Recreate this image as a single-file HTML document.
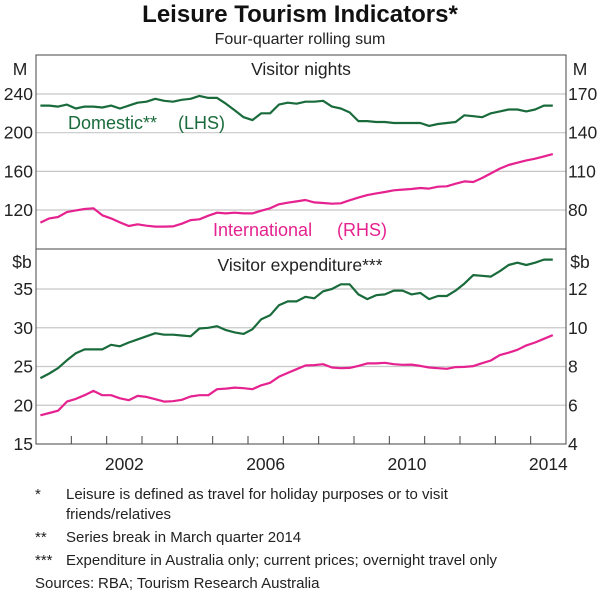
<!DOCTYPE html>
<html><head><meta charset="utf-8"><style>
body{margin:0;background:#fff;width:600px;height:594px;overflow:hidden}
svg{font-family:"Liberation Sans",Arial,sans-serif;display:block}
.t{font-size:17.5px;fill:#222}
.f{font-size:15px;fill:#222}
</style></head><body>
<svg id="c" width="600" height="594" viewBox="0 0 600 594">
<text x="300" y="22" text-anchor="middle" font-size="24" font-weight="bold" fill="#111">Leisure Tourism Indicators*</text>
<text x="300" y="44" text-anchor="middle" font-size="16" fill="#222">Four-quarter rolling sum</text>
<g id="grid"></g>
<g id="lines"></g>
<rect x="36" y="55" width="530" height="389" fill="none" stroke="#444" stroke-width="1"/>
<line x1="36" y1="249" x2="566" y2="249" stroke="#444" stroke-width="1"/>
<g id="axes"></g>
<text x="20" y="75" class="t" text-anchor="middle">M</text>
<text x="580" y="75" class="t" text-anchor="middle">M</text>
<text x="301" y="75" class="t" text-anchor="middle">Visitor nights</text>
<text x="22" y="268" class="t" text-anchor="middle">$b</text>
<text x="580" y="268" class="t" text-anchor="middle">$b</text>
<text x="300" y="271" class="t" text-anchor="middle">Visitor expenditure***</text>
<text x="68" y="129" font-size="18" fill="#1a6b3c">Domestic**</text>
<text x="178" y="129" font-size="18" fill="#1a6b3c">(LHS)</text>
<text x="213" y="236" font-size="18" fill="#e5228f">International</text>
<text x="337" y="236" font-size="18" fill="#e5228f">(RHS)</text>
<g>
<text x="35" y="499" class="f">*</text><text x="66" y="499" class="f">Leisure is defined as travel for holiday purposes or to visit</text>
<text x="66" y="519" class="f">friends/relatives</text>
<text x="35" y="542" class="f">**</text><text x="66" y="542" class="f">Series break in March quarter 2014</text>
<text x="35" y="565" class="f">***</text><text x="66" y="565" class="f">Expenditure in Australia only; current prices; overnight travel only</text>
<text x="35" y="588" class="f">Sources:</text><text x="98" y="588" class="f">RBA; Tourism Research Australia</text>
</g>
</svg>
<script>
const domNights=[228,228,227,229,225,227,227,226,228,225,228,231,232,235,233,232,234,235,238,236,236,230,223,216,213,220,220,229,231,230,232,232,233,227,225,221,212,212,211,211,210,210,210,210,207,209,210,211,218,217,216,220,222,224,224,222,224,228,228];
const intNights=[70.2,73.5,74.6,78.4,79.7,80.8,81.3,75.9,73.5,70.4,67.6,68.9,67.8,67.1,67.1,67.3,69.4,72.2,72.8,75.6,77.9,77.4,77.9,77.4,77.4,79.5,81.3,84.4,85.7,86.7,87.8,85.9,85.4,84.9,85.2,87.5,89.6,91.6,92.9,94.0,95.3,95.8,96.3,97.1,96.6,98.1,98.4,100.4,102.2,101.7,104.8,108.4,112.1,114.9,116.7,118.5,119.8,121.6,123.4];
const domExp=[23.5,24.1,24.8,25.8,26.7,27.2,27.2,27.2,27.8,27.6,28.1,28.5,28.9,29.3,29.1,29.1,29.0,28.9,29.9,30.0,30.2,29.7,29.4,29.2,29.8,31.1,31.6,32.9,33.4,33.4,34.0,33.8,34.7,35.0,35.6,35.6,34.3,33.7,34.2,34.3,34.8,34.8,34.3,34.5,33.7,34.1,34.1,34.8,35.7,36.8,36.7,36.6,37.3,38.1,38.4,38.1,38.4,38.8,38.8];
const intExp=[5.48,5.60,5.72,6.19,6.33,6.52,6.74,6.52,6.52,6.36,6.26,6.48,6.43,6.31,6.19,6.21,6.28,6.45,6.52,6.52,6.83,6.86,6.91,6.88,6.83,7.03,7.16,7.47,7.67,7.86,8.05,8.07,8.12,7.95,7.91,7.93,8.03,8.16,8.16,8.19,8.12,8.09,8.10,8.03,7.95,7.91,7.88,7.97,7.98,8.02,8.17,8.31,8.59,8.71,8.86,9.09,9.24,9.43,9.62];
const startYear=2000.125;
const topLeftTicks=[240,200,160,120];
const topRightTicks=[170,140,110,80];
const botLeftTicks=[35,30,25,20,15];
const botRightTicks=[12,10,8,6,4];
const yearLabels=[2002,2006,2010,2014];

const NS='http://www.w3.org/2000/svg';
const X=t=>36+(t-2000)*(530/15);
const yTL=v=>94+(240-v)*38.67/40;
const yTR=v=>94+(170-v)*38.67/30;
const yBL=v=>289+(35-v)*38.75/5;
const yBR=v=>289+(12-v)*38.75/2;
function mk(tag,attrs,parent){const e=document.createElementNS(NS,tag);for(const k in attrs)e.setAttribute(k,attrs[k]);document.getElementById(parent).appendChild(e);return e;}
function grid(ticks,yf){ticks.forEach(v=>{const y=yf(v);if(y>56&&y<443){const l=mk('line',{x1:36,x2:566,y1:y,y2:y,stroke:'#c8c8c8','stroke-width':1.2},'grid');

}});}
grid(topLeftTicks,yTL);grid(botLeftTicks,yBL);
function labels(ticks,yf,x,anchor,name){ticks.forEach(v=>{const t=mk('text',{x:x,y:yf(v)+6,'text-anchor':anchor,class:'t'},'axes');t.textContent=v;

});}
labels(topLeftTicks,yTL,33,'end','left-axis-tick-label');
labels(topRightTicks,yTR,568,'start','right-axis-tick-label');
labels(botLeftTicks,yBL,33,'end','left-axis-tick-label');
labels(botRightTicks,yBR,568,'start','right-axis-tick-label');
for(let yr=2001;yr<=2014;yr++){const l=mk('line',{x1:X(yr),x2:X(yr),y1:444,y2:436,stroke:'#444','stroke-width':1},'axes');

}
yearLabels.forEach(yr=>{const t=mk('text',{x:X(yr+0.5),y:470,'text-anchor':'middle',class:'t'},'axes');t.textContent=yr;

});
function line(data,yf,color,name){const d=data.map((v,i)=>(i?'L':'M')+X(startYear+0.25*i).toFixed(1)+','+yf(v).toFixed(1)).join('');
const p=mk('path',{d:d,fill:'none',stroke:color,'stroke-width':2.2,'stroke-linejoin':'round'},'lines');

}
line(domNights,yTL,'#1a6b3c','domestic-nights-line');
line(intNights,yTR,'#e5228f','international-nights-line');
line(domExp,yBL,'#1a6b3c','domestic-expenditure-line');
line(intExp,yBR,'#e5228f','international-expenditure-line');
</script>
</body></html>
